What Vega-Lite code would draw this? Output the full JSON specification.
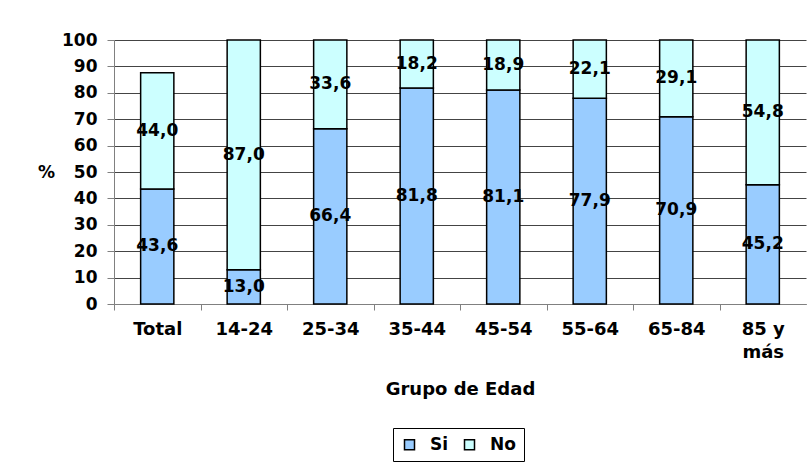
{
  "$schema": "https://vega.github.io/schema/vega-lite/v6.json",
  "autosize": "none",
  "width": 692,
  "height": 264,
  "padding": {"left": 114, "top": 40, "right": 4, "bottom": 159},
  "background": "white",
  "config": {
    "font": "DejaVu Sans",
    "view": {"stroke": null},
    "axis": {"labelFont": "DejaVu Sans", "labelFontWeight": "bold", "labelColor": "black", "titleFont": "DejaVu Sans", "titleFontWeight": "bold", "titleColor": "black"},
    "axisY": {
      "titleAngle": 0,
      "titleFontSize": 17,
      "titleX": -68,
      "titleY": 132,
      "titleAlign": "center",
      "titleBaseline": "middle",
      "tickCount": 20,
      "labelOverlap": false,
      "labelFontSize": 17,
      "labelPadding": 10,
      "tickSize": 7,
      "tickColor": "#808080",
      "domainColor": "#808080",
      "gridColor": "#444444",
      "gridOpacity": 1
    }
  },
  "data": {
    "values": [
      {"grupo": "Total", "resp": "Si", "value": 43.6},
      {"grupo": "Total", "resp": "No", "value": 44.0},
      {"grupo": "14-24", "resp": "Si", "value": 13.0},
      {"grupo": "14-24", "resp": "No", "value": 87.0},
      {"grupo": "25-34", "resp": "Si", "value": 66.4},
      {"grupo": "25-34", "resp": "No", "value": 33.6},
      {"grupo": "35-44", "resp": "Si", "value": 81.8},
      {"grupo": "35-44", "resp": "No", "value": 18.2},
      {"grupo": "45-54", "resp": "Si", "value": 81.1},
      {"grupo": "45-54", "resp": "No", "value": 18.9},
      {"grupo": "55-64", "resp": "Si", "value": 77.9},
      {"grupo": "55-64", "resp": "No", "value": 22.1},
      {"grupo": "65-84", "resp": "Si", "value": 70.9},
      {"grupo": "65-84", "resp": "No", "value": 29.1},
      {"grupo": "85 y más", "resp": "Si", "value": 45.2},
      {"grupo": "85 y más", "resp": "No", "value": 54.8}
    ]
  },
  "transform": [
    {"calculate": "datum.resp == 'Si' ? 0 : 1", "as": "ord"},
    {"stack": "value", "groupby": ["grupo"], "sort": [{"field": "ord", "order": "ascending"}], "as": ["v0", "v1"]},
    {"calculate": "(datum.v0 + datum.v1) / 2", "as": "mid"},
    {"calculate": "replace(format(datum.value, '.1f'), '.', ',')", "as": "lbl"}
  ],
  "encoding": {
    "x": {
      "field": "grupo",
      "type": "nominal",
      "sort": ["Total", "14-24", "25-34", "35-44", "45-54", "55-64", "65-84", "85 y más"],
      "scale": {"paddingInner": 0.616, "paddingOuter": 0.308},
      "axis": {
        "title": "Grupo de Edad",
        "titleFontSize": 18,
        "titleY": 85,
        "titleBaseline": "middle",
        "labelAngle": 0,
        "labelFontSize": 18,
        "labelPadding": 10,
        "labelLineHeight": 23,
        "labelExpr": "datum.label == '85 y más' ? ['85 y', 'más'] : datum.label",
        "tickOffset": -43,
        "labelOffset": 43,
        "tickSize": 6,
        "tickColor": "#808080",
        "domainColor": "#808080",
        "grid": false
      }
    },
    "y": {
      "field": "v0",
      "type": "quantitative",
      "scale": {"domain": [0, 100], "nice": false},
      "axis": {"title": "%", "values": [0, 10, 20, 30, 40, 50, 60, 70, 80, 90, 100], "tickCount": 20}
    }
  },
  "layer": [
    {
      "mark": {"type": "bar", "stroke": "black", "strokeWidth": 1.5},
      "encoding": {
        "y2": {"field": "v1"},
        "color": {
          "field": "resp",
          "type": "nominal",
          "scale": {"domain": ["Si", "No"], "range": ["#99CCFF", "#CCFFFF"]},
          "legend": {
            "title": null,
            "orient": "none",
            "legendX": 279,
            "legendY": 388,
            "direction": "horizontal",
            "strokeColor": "black",
            "padding": 8,
            "symbolType": "square",
            "symbolSize": 100,
            "symbolStrokeColor": "black",
            "symbolStrokeWidth": 1.5,
            "symbolOpacity": 1,
            "labelFont": "DejaVu Sans",
            "labelFontWeight": "bold",
            "labelFontSize": 17,
            "labelColor": "black",
            "labelOffset": 12,
            "columnPadding": 12
          }
        }
      }
    },
    {
      "mark": {"type": "text", "font": "DejaVu Sans", "fontWeight": "bold", "fontSize": 17, "color": "black", "baseline": "middle", "align": "center"},
      "encoding": {
        "y": {"field": "mid", "type": "quantitative", "axis": {"title": "%", "values": [0, 10, 20, 30, 40, 50, 60, 70, 80, 90, 100], "tickCount": 20}},
        "text": {"field": "lbl"}
      }
    }
  ]
}
